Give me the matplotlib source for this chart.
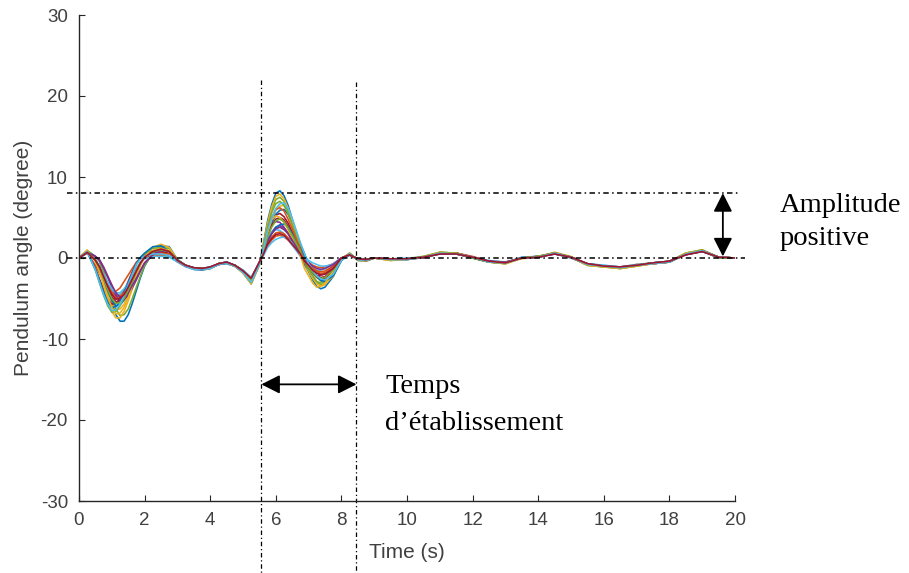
import matplotlib
matplotlib.use('Agg')
import matplotlib.pyplot as plt

plt.rcParams['axes.unicode_minus'] = False

# ---------------- data ----------------
time_s = [0, 0.25, 0.5, 0.625, 0.75, 0.875, 1.0, 1.125, 1.25, 1.375,
          1.5, 1.625, 1.75, 1.875, 2.0, 2.25, 2.5, 2.75, 3.0, 3.25,
          3.5, 3.75, 4.0, 4.25, 4.5, 4.75, 5.0, 5.25, 5.5, 5.625,
          5.75, 5.875, 6.0, 6.125, 6.25, 6.375, 6.5, 6.625, 6.75, 6.875,
          7.0, 7.125, 7.25, 7.375, 7.5, 7.75, 8.0, 8.25, 8.5, 8.75,
          9.0,
          9.5, 10, 10.5, 11, 11.5, 12, 12.5, 13, 13.5, 14, 14.5, 15, 15.5, 16, 16.5, 17,
          17.5, 18, 18.5, 19, 19.5, 20]

trial_01 = [0, 0.9, 0.2, -0.4, -1.8, -3.6, -5.4, -7.0, -7.8, -7.8,
            -7.0, -5.6, -4.0, -2.4, -1.0, 0.7, 1.5, 1.4, -0.2, -1.0,
            -1.4, -1.5, -1.3, -0.8, -0.6, -1.0, -1.8, -3.2, -0.8, 1.8,
            4.6, 6.6, 8.0, 8.3, 7.7, 6.5, 4.8, 3.1, 1.4, -0.8,
            -1.7, -2.7, -3.5, -3.8, -3.6, -2.3, -0.2, 0.6, -0.3, -0.4,
            0.0,
            -0.2, -0.1, 0.1, 0.6, 0.6, 0.1, -0.4, -0.6, 0.0, 0.1, 0.6, 0.1, -0.8, -1.0, -1.2, -0.9, -0.7, -0.5, 0.5, 0.9, 0.1, 0.0]
trial_02 = [0, 0.6, -0.9, -1.9, -2.9, -3.7, -4.1, -4.1, -3.7, -2.9,
            -2.1, -1.3, -0.5, 0.0, 0.1, 0.3, 0.3, 0.2, -0.4, -1.0,
            -1.3, -1.4, -1.2, -0.8, -0.6, -0.9, -1.5, -2.4, -0.6, 0.4,
            1.5, 2.2, 2.7, 2.8, 2.6, 2.2, 1.6, 1.0, 0.5, -0.2,
            -0.5, -0.9, -1.1, -1.2, -1.1, -0.7, 0.0, 0.4, -0.1, -0.2,
            0.0,
            -0.1, -0.1, 0.1, 0.5, 0.6, 0.2, -0.4, -0.5, 0.0, 0.2, 0.5, 0.1, -0.7, -1.0, -1.1, -0.9, -0.7, -0.4, 0.4, 0.8, 0.1, 0.0]
trial_03 = [0, 0.8, -0.3, -1.4, -2.9, -4.4, -5.7, -6.4, -6.3, -5.7,
            -4.6, -3.3, -2.0, -0.8, 0.1, 0.9, 1.2, 0.9, -0.3, -0.9,
            -1.3, -1.3, -1.2, -0.7, -0.6, -0.9, -1.7, -3.0, -0.8, 1.1,
            3.3, 4.7, 5.9, 6.4, 6.5, 5.9, 4.7, 3.3, 1.8, 0.5,
            -0.8, -1.7, -2.4, -2.9, -3.0, -2.3, -0.3, 0.5, -0.2, -0.3,
            0.0,
            -0.2, -0.1, 0.2, 0.7, 0.5, 0.0, -0.5, -0.6, -0.1, 0.1, 0.7, 0.2, -0.8, -1.1, -1.2, -0.8, -0.6, -0.5, 0.6, 1.0, 0.1, 0.0]
trial_04 = [0, 0.7, -0.3, -1.1, -2.3, -3.4, -4.4, -4.9, -4.9, -4.4,
            -3.5, -2.5, -1.5, -0.6, 0.1, 0.6, 0.8, 0.6, -0.3, -1.0,
            -1.3, -1.4, -1.2, -0.8, -0.6, -0.9, -1.6, -2.6, -0.6, 0.7,
            2.2, 3.2, 3.8, 4.0, 3.7, 3.1, 2.3, 1.5, 0.7, -0.4,
            -0.9, -1.4, -1.8, -2.0, -1.9, -1.2, -0.1, 0.4, -0.2, -0.3,
            0.0,
            -0.2, -0.2, 0.1, 0.6, 0.6, 0.1, -0.4, -0.6, 0.0, 0.1, 0.6, 0.0, -0.8, -1.0, -1.3, -0.9, -0.7, -0.5, 0.5, 0.9, 0.0, 0.0]
trial_05 = [0, 0.9, 0.2, -0.4, -1.6, -3.2, -4.9, -6.3, -7.1, -7.0,
            -6.3, -5.0, -3.6, -2.2, -0.9, 0.6, 1.3, 1.2, -0.2, -0.9,
            -1.3, -1.3, -1.2, -0.7, -0.5, -0.9, -1.8, -3.1, -0.8, 1.6,
            4.1, 6.0, 7.2, 7.5, 7.0, 5.9, 4.4, 2.8, 1.3, -0.7,
            -1.5, -2.4, -3.0, -3.3, -3.1, -2.0, -0.2, 0.6, -0.2, -0.3,
            0.0,
            -0.3, -0.1, 0.1, 0.6, 0.5, 0.1, -0.5, -0.7, 0.0, 0.2, 0.6, 0.1, -0.9, -1.0, -1.2, -1.0, -0.6, -0.4, 0.6, 0.9, 0.1, 0.0]
trial_06 = [0, 0.6, -0.2, -1.0, -2.1, -3.1, -4.0, -4.5, -4.5, -4.0,
            -3.2, -2.3, -1.4, -0.6, 0.0, 0.4, 0.5, 0.4, -0.4, -1.0,
            -1.3, -1.3, -1.1, -0.8, -0.6, -0.9, -1.5, -2.5, -0.6, 0.6,
            2.1, 3.2, 3.5, 3.4, 3.0, 2.3, 1.6, 0.9, 0.2, -0.5,
            -0.9, -1.3, -1.5, -1.5, -1.3, -0.7, 0.0, 0.4, -0.1, -0.2,
            0.0,
            -0.1, -0.1, 0.0, 0.5, 0.5, 0.1, -0.4, -0.6, 0.0, 0.2, 0.5, 0.1, -0.7, -0.9, -1.1, -0.9, -0.6, -0.4, 0.5, 0.8, 0.1, 0.0]
trial_07 = [0, 0.8, -1.3, -2.6, -3.9, -5.0, -5.7, -5.6, -5.0, -4.1,
            -2.9, -1.7, -0.7, 0.0, 0.4, 0.9, 1.0, 0.6, -0.3, -0.9,
            -1.2, -1.3, -1.2, -0.7, -0.6, -1.0, -1.7, -2.8, -0.6, 1.1,
            3.0, 4.4, 5.3, 5.5, 5.1, 4.3, 3.2, 2.0, 0.9, -0.5,
            -1.2, -1.9, -2.4, -2.6, -2.5, -1.6, -0.1, 0.5, -0.2, -0.3,
            0.0,
            -0.2, -0.1, 0.1, 0.6, 0.6, 0.0, -0.5, -0.6, 0.0, 0.1, 0.6, 0.1, -0.8, -1.0, -1.2, -0.9, -0.7, -0.5, 0.5, 0.9, 0.1, 0.0]
trial_08 = [0, 0.7, -0.3, -1.3, -2.7, -4.1, -5.2, -5.9, -5.8, -5.2,
            -4.2, -3.0, -1.8, -0.7, 0.1, 0.8, 1.1, 0.8, -0.3, -0.9,
            -1.3, -1.4, -1.3, -0.8, -0.7, -1.0, -1.7, -2.9, -0.7, 1.0,
            3.0, 4.3, 5.4, 5.9, 6.0, 5.4, 4.3, 3.0, 1.7, 0.5,
            -0.7, -1.5, -2.2, -2.7, -2.8, -2.1, -0.3, 0.5, -0.2, -0.3,
            0.0,
            -0.2, -0.2, 0.1, 0.7, 0.6, 0.1, -0.5, -0.6, 0.1, 0.2, 0.6, 0.1, -0.8, -1.1, -1.2, -0.9, -0.6, -0.5, 0.5, 0.9, 0.0, 0.0]
trial_09 = [0, 0.7, -0.2, -1.1, -2.2, -3.3, -4.2, -4.7, -4.7, -4.2,
            -3.4, -2.4, -1.4, -0.6, 0.0, 0.3, 0.4, 0.3, -0.4, -1.0,
            -1.4, -1.4, -1.2, -0.8, -0.6, -0.9, -1.6, -2.5, -0.5, 0.5,
            1.8, 2.6, 3.1, 3.2, 3.0, 2.5, 1.9, 1.2, 0.5, -0.3,
            -0.8, -1.2, -1.6, -1.7, -1.6, -1.0, 0.0, 0.4, -0.1, -0.2,
            0.0,
            -0.1, -0.1, 0.1, 0.5, 0.5, 0.1, -0.4, -0.5, 0.0, 0.1, 0.5, 0.1, -0.7, -1.0, -1.1, -0.8, -0.7, -0.4, 0.4, 0.8, 0.1, 0.0]
trial_10 = [0, 1.0, -0.4, -1.7, -3.4, -5.2, -6.6, -7.4, -7.4, -6.6,
            -5.3, -3.8, -2.3, -0.9, 0.2, 1.3, 1.7, 1.3, -0.2, -0.9,
            -1.3, -1.4, -1.3, -0.8, -0.6, -1.0, -1.9, -3.2, -0.9, 1.7,
            4.3, 6.3, 7.6, 7.9, 7.3, 6.2, 4.6, 2.9, 1.3, -0.7,
            -1.6, -2.5, -3.2, -3.5, -3.3, -2.1, -0.2, 0.6, -0.3, -0.4,
            0.0,
            -0.3, -0.2, 0.1, 0.7, 0.6, 0.0, -0.5, -0.7, 0.0, 0.2, 0.7, 0.1, -0.9, -1.1, -1.3, -1.0, -0.7, -0.5, 0.6, 1.0, 0.1, 0.0]
trial_11 = [0, 0.7, 0.2, -0.3, -1.2, -2.4, -3.6, -4.6, -5.2, -5.1,
            -4.6, -3.7, -2.7, -1.6, -0.6, 0.4, 0.9, 0.8, -0.3, -0.9,
            -1.2, -1.3, -1.2, -0.7, -0.5, -0.9, -1.6, -2.7, -0.6, 0.8,
            2.7, 4.1, 4.5, 4.4, 3.8, 3.0, 2.1, 1.2, 0.3, -0.8,
            -1.3, -1.9, -2.2, -2.1, -1.9, -1.0, 0.0, 0.4, -0.2, -0.3,
            0.0,
            -0.2, -0.1, 0.1, 0.6, 0.5, 0.1, -0.4, -0.6, 0.0, 0.2, 0.6, 0.1, -0.8, -1.0, -1.2, -0.9, -0.6, -0.5, 0.5, 0.9, 0.1, 0.0]
trial_12 = [0, 0.8, -1.5, -3.1, -4.6, -5.9, -6.7, -6.6, -5.9, -4.8,
            -3.4, -2.0, -0.8, 0.0, 0.5, 1.2, 1.3, 0.7, -0.2, -1.0,
            -1.3, -1.4, -1.2, -0.8, -0.6, -1.0, -1.8, -3.0, -0.8, 1.5,
            3.9, 5.6, 6.7, 7.0, 6.5, 5.5, 4.1, 2.6, 1.2, -0.6,
            -1.4, -2.2, -2.9, -3.1, -2.9, -1.9, -0.2, 0.5, -0.2, -0.3,
            0.0,
            -0.2, -0.1, 0.2, 0.7, 0.6, 0.0, -0.5, -0.7, 0.0, 0.2, 0.6, 0.1, -0.9, -1.1, -1.3, -1.0, -0.6, -0.4, 0.6, 1.0, 0.1, 0.0]
trial_13 = [0, 0.6, -0.2, -1.0, -2.0, -3.0, -3.8, -4.3, -4.3, -3.8,
            -3.1, -2.2, -1.3, -0.5, -0.1, 0.2, 0.2, 0.1, -0.5, -1.1,
            -1.4, -1.4, -1.2, -0.8, -0.7, -1.0, -1.5, -2.4, -0.5, 0.3,
            1.3, 1.9, 2.3, 2.5, 2.6, 2.3, 1.9, 1.3, 0.7, 0.2,
            -0.3, -0.6, -0.8, -1.0, -1.0, -0.8, -0.1, 0.3, -0.1, -0.2,
            0.0,
            -0.1, 0.0, 0.1, 0.5, 0.5, 0.1, -0.3, -0.5, 0.0, 0.1, 0.5, 0.0, -0.7, -0.9, -1.1, -0.8, -0.6, -0.4, 0.4, 0.8, 0.0, 0.0]
trial_14 = [0, 0.7, -0.3, -1.2, -2.5, -3.7, -4.8, -5.4, -5.3, -4.8,
            -3.9, -2.8, -1.7, -0.7, 0.1, 0.5, 0.7, 0.5, -0.4, -1.0,
            -1.3, -1.3, -1.2, -0.7, -0.6, -0.9, -1.7, -2.8, -0.6, 1.0,
            2.8, 4.0, 4.8, 5.0, 4.7, 3.9, 2.9, 1.9, 0.9, -0.5,
            -1.1, -1.7, -2.2, -2.4, -2.3, -1.4, -0.1, 0.4, -0.2, -0.3,
            0.0,
            -0.2, -0.1, 0.0, 0.6, 0.6, 0.1, -0.4, -0.6, 0.0, 0.1, 0.6, 0.1, -0.8, -1.0, -1.2, -0.9, -0.7, -0.5, 0.5, 0.9, 0.1, 0.0]
trial_15 = [0, 0.8, -1.4, -2.8, -4.2, -5.4, -6.1, -6.0, -5.4, -4.3,
            -3.1, -1.9, -0.7, 0.1, 0.6, 1.4, 1.5, 0.8, -0.2, -0.9,
            -1.2, -1.3, -1.1, -0.7, -0.5, -0.9, -1.7, -2.6, -0.6, 0.6,
            2.1, 3.0, 3.8, 4.1, 4.2, 3.8, 3.0, 2.1, 1.2, 0.3,
            -0.7, -1.6, -2.3, -2.8, -2.9, -2.2, -0.3, 0.5, -0.2, -0.3,
            0.0,
            -0.2, -0.1, 0.1, 0.6, 0.5, 0.0, -0.5, -0.6, 0.0, 0.2, 0.6, 0.1, -0.8, -1.0, -1.2, -0.9, -0.6, -0.5, 0.5, 0.9, 0.1, 0.0]
trial_16 = [0, 0.7, -0.3, -1.1, -2.3, -3.5, -4.4, -5.0, -4.9, -4.4,
            -3.6, -2.6, -1.5, -0.6, 0.1, 0.5, 0.6, 0.5, -0.4, -1.0,
            -1.3, -1.4, -1.2, -0.8, -0.6, -1.0, -1.7, -2.9, -0.7, 1.3,
            3.4, 5.0, 6.0, 6.2, 5.8, 4.8, 3.6, 2.3, 1.1, -0.4,
            -0.9, -1.4, -1.7, -1.9, -1.8, -1.1, -0.1, 0.4, -0.2, -0.3,
            0.0,
            -0.2, -0.1, 0.1, 0.6, 0.6, 0.1, -0.4, -0.6, 0.0, 0.1, 0.6, 0.1, -0.8, -1.0, -1.2, -0.9, -0.7, -0.4, 0.5, 0.9, 0.1, 0.0]
trial_17 = [0, 0.9, -0.4, -1.5, -3.2, -4.8, -6.1, -6.9, -6.8, -6.1,
            -4.9, -3.5, -2.1, -0.8, 0.1, 0.9, 1.2, 0.9, -0.3, -1.0,
            -1.3, -1.3, -1.2, -0.7, -0.6, -1.0, -1.8, -2.8, -0.7, 1.0,
            3.1, 4.7, 5.2, 5.0, 4.4, 3.5, 2.4, 1.4, 0.3, -1.3,
            -2.2, -3.1, -3.6, -3.5, -3.1, -1.6, -0.1, 0.5, -0.2, -0.3,
            0.0,
            -0.3, -0.1, 0.1, 0.7, 0.6, 0.1, -0.5, -0.7, 0.0, 0.2, 0.6, 0.1, -0.9, -1.1, -1.3, -1.0, -0.7, -0.5, 0.6, 0.9, 0.1, 0.0]
trial_18 = [0, 0.7, 0.2, -0.2, -1.1, -2.2, -3.3, -4.3, -4.8, -4.8,
            -4.3, -3.4, -2.5, -1.5, -0.6, 0.4, 0.9, 0.8, -0.3, -1.0,
            -1.3, -1.3, -1.2, -0.8, -0.6, -0.9, -1.6, -2.6, -0.5, 0.7,
            2.1, 3.0, 3.6, 3.8, 3.5, 3.0, 2.2, 1.4, 0.6, -0.3,
            -0.6, -1.0, -1.3, -1.4, -1.3, -0.8, 0.0, 0.4, -0.1, -0.2,
            0.0,
            -0.1, -0.1, 0.1, 0.5, 0.5, 0.1, -0.4, -0.5, 0.0, 0.1, 0.5, 0.1, -0.7, -1.0, -1.1, -0.9, -0.6, -0.4, 0.4, 0.8, 0.1, 0.0]
trial_19 = [0, 0.8, -0.3, -1.3, -2.6, -3.9, -5.0, -5.6, -5.5, -5.0,
            -4.0, -2.9, -1.7, -0.7, 0.1, 0.8, 1.0, 0.8, -0.3, -0.9,
            -1.3, -1.3, -1.2, -0.7, -0.6, -0.9, -1.7, -2.7, -0.6, 0.9,
            2.6, 3.8, 4.6, 4.8, 4.5, 3.7, 2.8, 1.8, 0.8, -0.5,
            -1.1, -1.8, -2.3, -2.5, -2.4, -1.5, -0.1, 0.5, -0.2, -0.3,
            0.0,
            -0.2, -0.1, 0.1, 0.6, 0.6, 0.0, -0.5, -0.6, 0.0, 0.2, 0.6, 0.1, -0.8, -1.0, -1.2, -0.9, -0.6, -0.5, 0.5, 0.9, 0.0, 0.0]
trial_20 = [0, 0.8, -1.5, -3.0, -4.5, -5.7, -6.5, -6.4, -5.7, -4.6,
            -3.3, -2.0, -0.8, -0.1, 0.2, 0.5, 0.5, 0.3, -0.4, -1.0,
            -1.4, -1.4, -1.3, -0.8, -0.6, -1.0, -1.8, -3.0, -0.8, 1.2,
            3.4, 4.9, 6.1, 6.7, 6.8, 6.1, 4.9, 3.4, 1.9, 0.5,
            -0.7, -1.5, -2.2, -2.6, -2.7, -2.0, -0.3, 0.5, -0.2, -0.3,
            0.0,
            -0.2, -0.2, 0.1, 0.6, 0.5, 0.1, -0.5, -0.6, 0.0, 0.1, 0.6, 0.1, -0.8, -1.0, -1.2, -0.9, -0.7, -0.5, 0.5, 0.9, 0.1, 0.0]
trial_21 = [0, 0.7, -0.3, -1.1, -2.3, -3.5, -4.5, -5.1, -5.0, -4.5,
            -3.6, -2.6, -1.6, -0.6, 0.1, 0.8, 1.1, 0.8, -0.3, -0.9,
            -1.2, -1.3, -1.1, -0.7, -0.5, -0.9, -1.6, -2.5, -0.5, 0.5,
            1.7, 2.4, 2.9, 3.0, 2.8, 2.3, 1.7, 1.1, 0.5, -0.4,
            -0.9, -1.5, -1.9, -2.1, -2.0, -1.3, 0.0, 0.4, -0.1, -0.2,
            0.0,
            -0.1, -0.1, 0.1, 0.5, 0.5, 0.1, -0.4, -0.6, 0.0, 0.1, 0.5, 0.1, -0.7, -1.0, -1.1, -0.9, -0.6, -0.4, 0.4, 0.8, 0.1, 0.0]

trials = [trial_01, trial_02, trial_03, trial_04, trial_05, trial_06, trial_07,
          trial_08, trial_09, trial_10, trial_11, trial_12, trial_13, trial_14,
          trial_15, trial_16, trial_17, trial_18, trial_19, trial_20, trial_21]

line_colors = ['#0072BD', '#D95319', '#EDB120', '#7E2F8E', '#77AC30', '#4DBEEE', '#A2142F']

x_ticks = [0, 2, 4, 6, 8, 10, 12, 14, 16, 18, 20]
y_ticks = [-30, -20, -10, 0, 10, 20, 30]

settle_start = 5.56
settle_end = 8.46
amp_level = 8.0
zero_level = 0.0
amp_arrow_x = 19.63
settle_arrow_y = -15.6

W, H = 909, 573

# ---------------- figure ----------------
fig = plt.figure(figsize=(W / 100, H / 100), dpi=100)
ax = fig.add_axes([79 / W, 1 - 501 / H, (735 - 79) / W, (501 - 15) / H])

for i, tr in enumerate(trials):
    ax.plot(time_s, tr, color=line_colors[i % len(line_colors)], lw=1.15)

ax.set_xlim(0, 20)
ax.set_ylim(-30, 30)
ax.set_xticks(x_ticks)
ax.set_yticks(y_ticks)
for s in ['top', 'right']:
    ax.spines[s].set_visible(False)
for s in ['left', 'bottom']:
    ax.spines[s].set_color('#262626')
    ax.spines[s].set_linewidth(1.0)

ax.tick_params(direction='in', length=4, width=0.8, color='#262626',
               labelsize=13.5, labelcolor='#404040')
ax.tick_params(axis='y', pad=8)
ax.tick_params(axis='x', pad=8)
for lab in ax.get_xticklabels() + ax.get_yticklabels():
    lab.set_fontfamily('Liberation Sans')

ax.set_xlabel('Time (s)', fontsize=15, color='#404040', family='Liberation Sans')
ax.set_ylabel('Pendulum angle (degree)', fontsize=15, color='#404040',
              family='Liberation Sans')
ax.xaxis.set_label_coords(0.5, -0.086)
ax.yaxis.set_label_coords(-0.070, 0.5)

# ---------------- annotations ----------------
dd = (0, (3.6, 2.2, 1.0, 2.2))
ax.plot([-0.37, 20.1], [amp_level, amp_level], color='black', lw=1.1, ls=dd, clip_on=False)
ax.plot([-0.37, 20.3], [zero_level, zero_level], color='black', lw=1.1, ls=dd, clip_on=False)
ax.plot([settle_start, settle_start], [22.0, -40.0], color='black', lw=0.9, ls=dd, clip_on=False)
ax.plot([settle_end, settle_end], [21.7, -40.0], color='black', lw=0.9, ls=dd, clip_on=False)

arrow_props = dict(arrowstyle='<|-|>,head_length=0.75,head_width=0.38',
                   color='black', lw=1.3, mutation_scale=15, shrinkA=0, shrinkB=0)
ax.annotate('', xy=(amp_arrow_x, amp_level), xytext=(amp_arrow_x, 0.2),
            arrowprops=arrow_props, annotation_clip=False)
ax.annotate('', xy=(settle_start, settle_arrow_y), xytext=(settle_end, settle_arrow_y),
            arrowprops=arrow_props, annotation_clip=False)

serif = 'Liberation Serif'
fig.text(780 / W, 1 - 212 / H, 'Amplitude', fontsize=20.5, family=serif, va='baseline')
fig.text(780 / W, 1 - 245 / H, 'positive', fontsize=20.5, family=serif, va='baseline')
fig.text(385 / W, 1 - 393 / H, 'Temps', fontsize=20.5, family=serif, va='baseline')
fig.text(385 / W, 1 - 430 / H, 'd\u2019établissement', fontsize=20.5, family=serif, va='baseline')

fig.savefig('out.png', dpi=100)
